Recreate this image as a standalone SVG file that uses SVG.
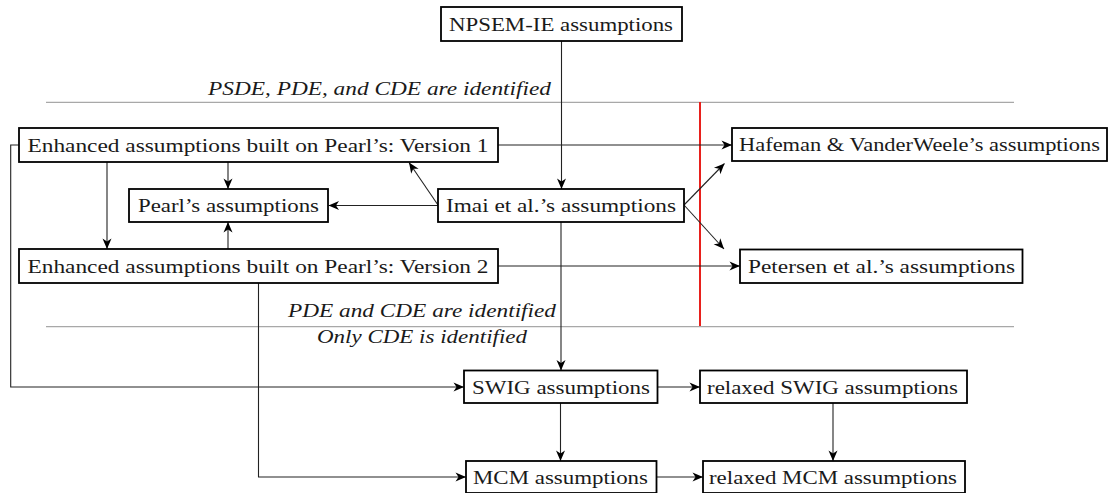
<svg xmlns="http://www.w3.org/2000/svg" width="1108" height="493" viewBox="0 0 1108 493">
<style>
.box{fill:#fff;stroke:#000;stroke-width:1.8}
.t{font-family:'Liberation Serif','Times New Roman',Times,serif;font-size:19px;fill:#1a1a1a;text-anchor:middle}
.lab{font-family:'Liberation Serif','Times New Roman',Times,serif;font-size:19px;font-style:italic;fill:#1a1a1a}
.c{fill:none;stroke:#222;stroke-width:1.1}
.g{fill:none;stroke:#a8a8a8;stroke-width:1.3}
</style>
<defs>
<marker id="ah" markerUnits="userSpaceOnUse" markerWidth="13" markerHeight="11" refX="11" refY="5.5" orient="auto">
<path d="M0.5,1 L11,5.5 L0.5,10 L3.5,5.5 z" fill="#000"/>
</marker>
</defs>
<rect width="1108" height="493" fill="#fff"/>
<g id="separators">
<path class="g" d="M46,102.3 H1014"/>
<path class="g" d="M46,326.7 H1014"/>
<path d="M700,102 V326" fill="none" stroke="#e8201c" stroke-width="2"/>
<text class="lab" x="551" y="95" text-anchor="end" textLength="343" lengthAdjust="spacingAndGlyphs">PSDE, PDE, and CDE are identified</text>
<text class="lab" x="556" y="317" text-anchor="end" textLength="268" lengthAdjust="spacingAndGlyphs">PDE and CDE are identified</text>
<text class="lab" x="422" y="343" text-anchor="middle" textLength="210" lengthAdjust="spacingAndGlyphs">Only CDE is identified</text>
</g>
<g id="connectors">
<path class="c" d="M561.5,41 V189" marker-end="url(#ah)"/>
<path class="c" d="M561,222 V370.5" marker-end="url(#ah)"/>
<path class="c" d="M438,205.5 H328.5" marker-end="url(#ah)"/>
<path class="c" d="M438,205 L409,162.5" marker-end="url(#ah)"/>
<path class="c" d="M684,205 L724.5,163.5" marker-end="url(#ah)"/>
<path class="c" d="M684,205 L724,249" marker-end="url(#ah)"/>
<path class="c" d="M498,145 H732" marker-end="url(#ah)"/>
<path class="c" d="M498,266 H740" marker-end="url(#ah)"/>
<path class="c" d="M107,162 V249" marker-end="url(#ah)"/>
<path class="c" d="M228,162 V189" marker-end="url(#ah)"/>
<path class="c" d="M228,249 V222" marker-end="url(#ah)"/>
<path class="c" d="M19,145 H10.7 V387 H464" marker-end="url(#ah)"/>
<path class="c" d="M258.5,283 V477 H466" marker-end="url(#ah)"/>
<path class="c" d="M657.5,387 H700" marker-end="url(#ah)"/>
<path class="c" d="M656.5,477 H703" marker-end="url(#ah)"/>
<path class="c" d="M560.5,403 V461" marker-end="url(#ah)"/>
<path class="c" d="M833,403 V461" marker-end="url(#ah)"/>
</g>
<g id="npsem"><rect class="box" x="441" y="7" width="241" height="34"/><text class="t" x="561" y="30.5" textLength="224" lengthAdjust="spacingAndGlyphs">NPSEM-IE assumptions</text></g>
<g id="enh1"><rect class="box" x="19" y="128" width="479" height="34"/><text class="t" x="258" y="151.5" textLength="461" lengthAdjust="spacingAndGlyphs">Enhanced assumptions built on Pearl’s: Version 1</text></g>
<g id="pearl"><rect class="box" x="129" y="189" width="199" height="33"/><text class="t" x="228.5" y="212" textLength="181" lengthAdjust="spacingAndGlyphs">Pearl’s assumptions</text></g>
<g id="imai"><rect class="box" x="438" y="189" width="246" height="33"/><text class="t" x="561" y="212" textLength="230" lengthAdjust="spacingAndGlyphs">Imai et al.’s assumptions</text></g>
<g id="enh2"><rect class="box" x="19" y="249" width="479" height="34"/><text class="t" x="258" y="272.5" textLength="461" lengthAdjust="spacingAndGlyphs">Enhanced assumptions built on Pearl’s: Version 2</text></g>
<g id="hafeman"><rect class="box" x="732" y="128" width="375" height="33"/><text class="t" x="919.5" y="151" textLength="361" lengthAdjust="spacingAndGlyphs">Hafeman &amp; VanderWeele’s assumptions</text></g>
<g id="petersen"><rect class="box" x="740" y="249.5" width="282.5" height="33.5"/><text class="t" x="881.5" y="272.5" textLength="267" lengthAdjust="spacingAndGlyphs">Petersen et al.’s assumptions</text></g>
<g id="swig"><rect class="box" x="464" y="370.5" width="193.5" height="32.5"/><text class="t" x="561" y="393.5" textLength="178" lengthAdjust="spacingAndGlyphs">SWIG assumptions</text></g>
<g id="rswig"><rect class="box" x="700" y="370.5" width="267" height="32.5"/><text class="t" x="832.5" y="393.5" textLength="251" lengthAdjust="spacingAndGlyphs">relaxed SWIG assumptions</text></g>
<g id="mcm"><rect class="box" x="466" y="461" width="190.5" height="32"/><text class="t" x="560.5" y="484" textLength="175" lengthAdjust="spacingAndGlyphs">MCM assumptions</text></g>
<g id="rmcm"><rect class="box" x="703" y="461" width="262" height="32"/><text class="t" x="833" y="484" textLength="248" lengthAdjust="spacingAndGlyphs">relaxed MCM assumptions</text></g>
</svg>
